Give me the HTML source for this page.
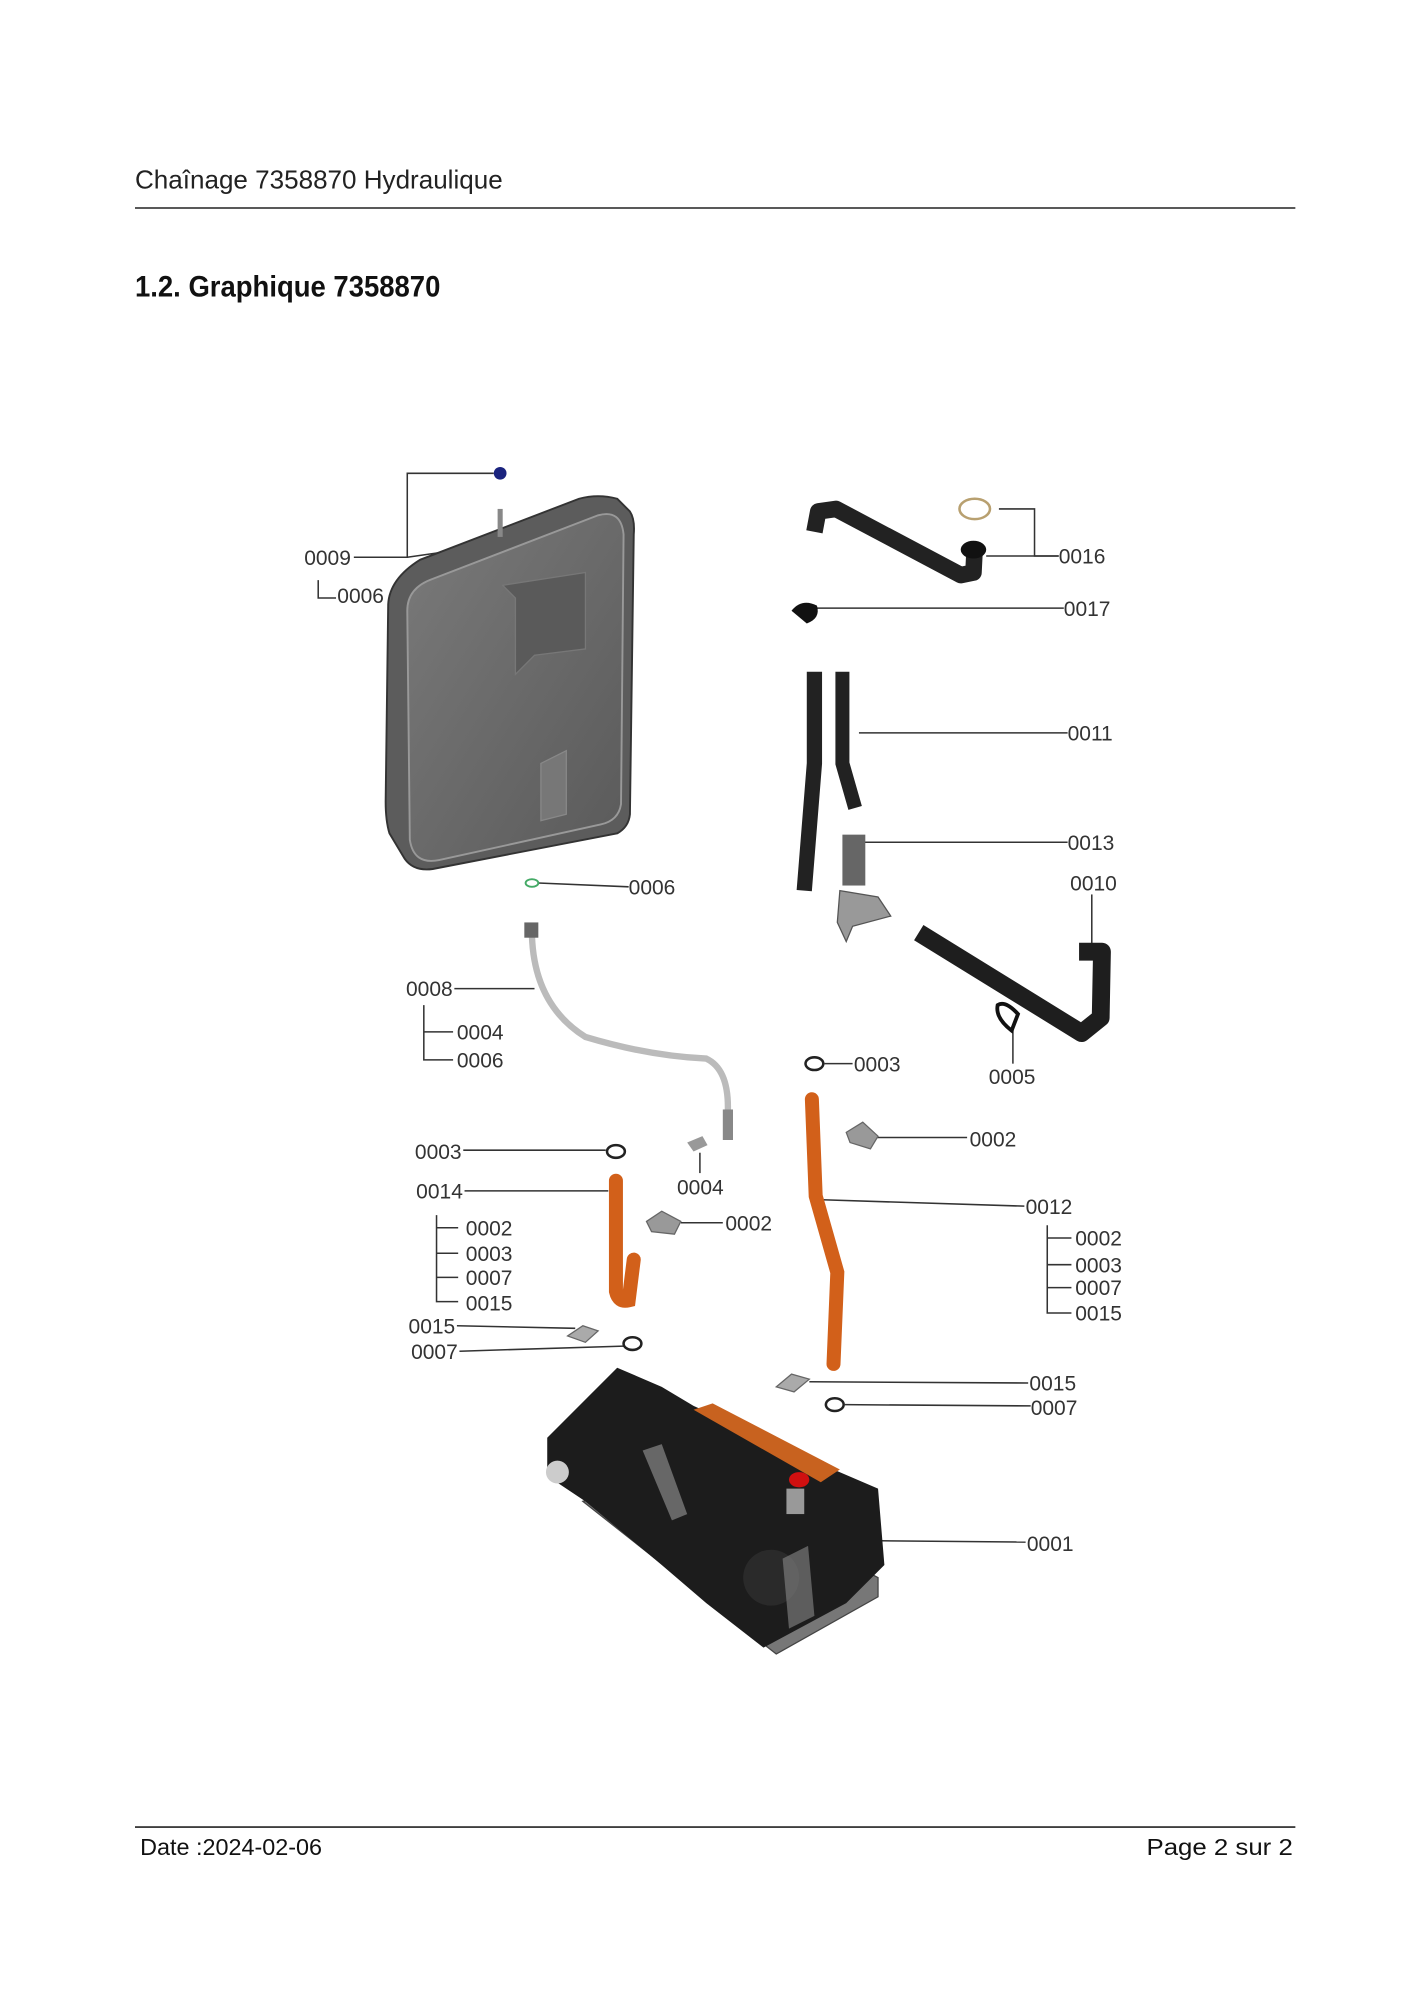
<!DOCTYPE html>
<html><head><meta charset="utf-8"><style>
html,body{margin:0;padding:0;background:#fff;}
body{width:1410px;height:1995px;position:relative;overflow:hidden;font-family:"Liberation Sans",sans-serif;}
svg{position:absolute;left:0;top:0;}
</style></head><body>
<svg width="1410" height="1995" viewBox="0 0 1108 1568" xmlns="http://www.w3.org/2000/svg" font-family="Liberation Sans, sans-serif">
<defs>
<linearGradient id="tg" x1="0" y1="0" x2="1" y2="1"><stop offset="0" stop-color="#7a7a7a"/><stop offset="1" stop-color="#5a5a5a"/></linearGradient>
</defs>
<text x="106" y="148" font-size="20.3" fill="#222" textLength="289" lengthAdjust="spacingAndGlyphs">Chaînage 7358870 Hydraulique</text>
<line x1="106" y1="163.5" x2="1018" y2="163.5" stroke="#222" stroke-width="1.2"/>
<text x="106" y="233" font-size="23" font-weight="bold" fill="#111" textLength="240" lengthAdjust="spacingAndGlyphs">1.2. Graphique 7358870</text>
<line x1="106" y1="1436" x2="1018" y2="1436" stroke="#222" stroke-width="1.2"/>
<text x="110" y="1458" font-size="18" fill="#111" textLength="143" lengthAdjust="spacingAndGlyphs">Date :2024-02-06</text>
<text x="901" y="1458" font-size="18" fill="#111" textLength="115" lengthAdjust="spacingAndGlyphs">Page 2 sur   2</text>

<g stroke="#333" stroke-width="1.2" fill="none">
<polyline points="278,438 320,438 320,372 388,372"/>
<line x1="320" y1="438" x2="390" y2="428"/>
<polyline points="250,456 250,470 264,470"/>
<polyline points="785,400 813,400 813,437 832,437"/>
<line x1="775" y1="437" x2="832" y2="437"/>
<line x1="642" y1="478" x2="836" y2="478"/>
<line x1="675" y1="576" x2="839" y2="576"/>
<line x1="674" y1="662" x2="839" y2="662"/>
<line x1="858" y1="703" x2="858" y2="742"/>
<line x1="796" y1="808" x2="796" y2="836"/>
<line x1="423" y1="694" x2="494" y2="697"/>
<line x1="648" y1="836" x2="670" y2="836"/>
<line x1="357" y1="777" x2="420" y2="777"/>
<polyline points="333,790 333,833 356,833"/>
<line x1="333" y1="811" x2="356" y2="811"/>
<line x1="364" y1="904" x2="476" y2="904"/>
<line x1="365" y1="936" x2="478" y2="936"/>
<polyline points="343,955 343,1023 360,1023"/>
<line x1="343" y1="965" x2="360" y2="965"/>
<line x1="343" y1="985" x2="360" y2="985"/>
<line x1="343" y1="1004" x2="360" y2="1004"/>
<line x1="550" y1="906" x2="550" y2="922"/>
<line x1="535" y1="961" x2="568" y2="961"/>
<line x1="359" y1="1042" x2="452" y2="1044"/>
<line x1="361" y1="1062" x2="490" y2="1058"/>
<line x1="688" y1="894" x2="760" y2="894"/>
<line x1="646" y1="943" x2="805" y2="948"/>
<polyline points="823,963 823,1032 842,1032"/>
<line x1="823" y1="973" x2="842" y2="973"/>
<line x1="823" y1="994" x2="842" y2="994"/>
<line x1="823" y1="1012" x2="842" y2="1012"/>
<line x1="636" y1="1086" x2="808" y2="1087"/>
<line x1="664" y1="1104" x2="810" y2="1105"/>
<line x1="692" y1="1211" x2="806" y2="1212"/>
</g>

<g font-size="16.5" fill="#333">
<text x="239" y="444">0009</text><text x="265" y="474">0006</text>
<text x="832" y="443">0016</text><text x="836" y="484">0017</text>
<text x="839" y="582">0011</text><text x="839" y="668">0013</text>
<text x="841" y="700">0010</text><text x="777" y="852">0005</text>
<text x="494" y="703">0006</text><text x="671" y="842">0003</text>
<text x="319" y="783">0008</text><text x="359" y="817">0004</text><text x="359" y="839">0006</text>
<text x="326" y="911">0003</text><text x="327" y="942">0014</text>
<text x="366" y="971">0002</text><text x="366" y="991">0003</text><text x="366" y="1010">0007</text><text x="366" y="1030">0015</text>
<text x="532" y="939">0004</text><text x="570" y="967">0002</text>
<text x="321" y="1048">0015</text><text x="323" y="1068">0007</text>
<text x="762" y="901">0002</text><text x="806" y="954">0012</text>
<text x="845" y="979">0002</text><text x="845" y="1000">0003</text><text x="845" y="1018">0007</text><text x="845" y="1038">0015</text>
<text x="809" y="1093">0015</text><text x="810" y="1112">0007</text>
<text x="807" y="1219">0001</text>
</g>

<path d="M330,440 L455,392 Q470,388 485,392 L495,402 Q499,408 498,420 L495,640 Q494,650 485,655 L340,683 Q325,685 318,675 L306,655 Q303,645 303,630 L305,475 Q306,455 330,440 Z" fill="#5c5c5c" stroke="#333" stroke-width="1.5"/>
<path d="M340,455 L470,405 Q488,400 490,420 L488,632 Q486,645 472,648 L345,676 Q325,680 322,660 L320,480 Q320,462 340,455 Z" fill="url(#tg)" stroke="#999" stroke-width="1.5"/>
<path d="M395,460 L405,470 L405,530 L420,515 L460,510 L460,450 Z" fill="#5a5a5a" stroke="#777"/>
<path d="M425,600 L445,590 L445,640 L425,645 Z" fill="#777" stroke="#888"/>
<rect x="391" y="400" width="4" height="22" fill="#888"/>
<circle cx="393" cy="372" r="5" fill="#1a237e"/>

<ellipse cx="766" cy="400" rx="12" ry="8" fill="none" stroke="#b8a070" stroke-width="2"/>
<path d="M640,418 L643,402 L657,400 L755,452 L765,450 L766,430" fill="none" stroke="#222" stroke-width="13" stroke-linejoin="round"/>
<ellipse cx="765" cy="432" rx="10" ry="7" fill="#111"/>
<path d="M622,480 Q630,470 642,476 Q645,486 634,490 Z" fill="#111"/>
<path d="M640,528 L640,600 L632,700" stroke="#222" stroke-width="12" fill="none"/>
<path d="M662,528 L662,600 L672,635" stroke="#222" stroke-width="11" fill="none"/>
<rect x="662" y="656" width="18" height="40" fill="#666"/>
<path d="M660,700 L690,705 L700,720 L670,728 L665,740 L658,725 Z" fill="#999" stroke="#555"/>
<path d="M722,733 L850,812 L865,800 L866,748 L848,748" fill="none" stroke="#1e1e1e" stroke-width="14" stroke-linejoin="round"/>
<path d="M784,790 Q790,786 800,797 L795,810 Q782,800 784,790 Z" fill="none" stroke="#111" stroke-width="3"/>
<ellipse cx="418" cy="694" rx="5" ry="3" fill="none" stroke="#4a6" stroke-width="1.5"/>
<ellipse cx="640" cy="836" rx="7" ry="5" fill="none" stroke="#222" stroke-width="2"/>
<ellipse cx="484" cy="905" rx="7" ry="5" fill="none" stroke="#222" stroke-width="2"/>
<ellipse cx="497" cy="1056" rx="7" ry="5" fill="none" stroke="#222" stroke-width="2"/>
<ellipse cx="656" cy="1104" rx="7" ry="5" fill="none" stroke="#222" stroke-width="2"/>
<path d="M418,736 Q420,790 460,815 Q510,830 555,832 Q572,840 572,870 L572,895" fill="none" stroke="#bbb" stroke-width="5"/>
<rect x="412" y="725" width="11" height="12" fill="#666"/>
<rect x="568" y="872" width="8" height="24" fill="#888"/>
<path d="M484,928 L484,1015 Q486,1024 494,1022 L498,990" fill="none" stroke="#d2601a" stroke-width="11" stroke-linecap="round"/>
<path d="M638,864 L641,940 L658,1000 L655,1072" fill="none" stroke="#d2601a" stroke-width="11" stroke-linecap="round"/>
<path d="M540,898 L552,893 L556,900 L545,905 Z" fill="#999"/>
<path d="M508,960 L520,952 L535,960 L530,970 L512,968 Z" fill="#999" stroke="#666"/>
<path d="M665,890 L678,882 L690,893 L684,903 L668,898 Z" fill="#999" stroke="#666"/>
<path d="M446,1050 L458,1042 L470,1046 L460,1055 Z" fill="#aaa" stroke="#666"/>
<path d="M610,1090 L622,1080 L636,1084 L624,1094 Z" fill="#aaa" stroke="#666"/>
<path d="M458,1180 L610,1300 L690,1255 L690,1240 L540,1160 Z" fill="#777" stroke="#444"/>
<path d="M430,1130 L485,1075 L520,1090 L545,1105 L655,1155 L690,1170 L695,1230 L665,1260 L600,1295 L555,1260 L520,1230 L460,1180 L430,1160 Z" fill="#1c1c1c"/>
<path d="M545,1108 L560,1103 L660,1155 L645,1165 Z" fill="#c8621f"/>
<circle cx="606" cy="1240" r="22" fill="#2a2a2a"/>
<path d="M615,1225 L635,1215 L640,1270 L620,1280 Z" fill="#888" opacity="0.6"/>
<path d="M505,1140 L520,1135 L540,1190 L528,1195 Z" fill="#999" opacity="0.6"/>
<circle cx="438" cy="1157" r="9" fill="#ccc"/>
<ellipse cx="628" cy="1163" rx="8" ry="6" fill="#d01010"/>
<rect x="618" y="1170" width="14" height="20" fill="#999"/>
</svg>
</body></html>
